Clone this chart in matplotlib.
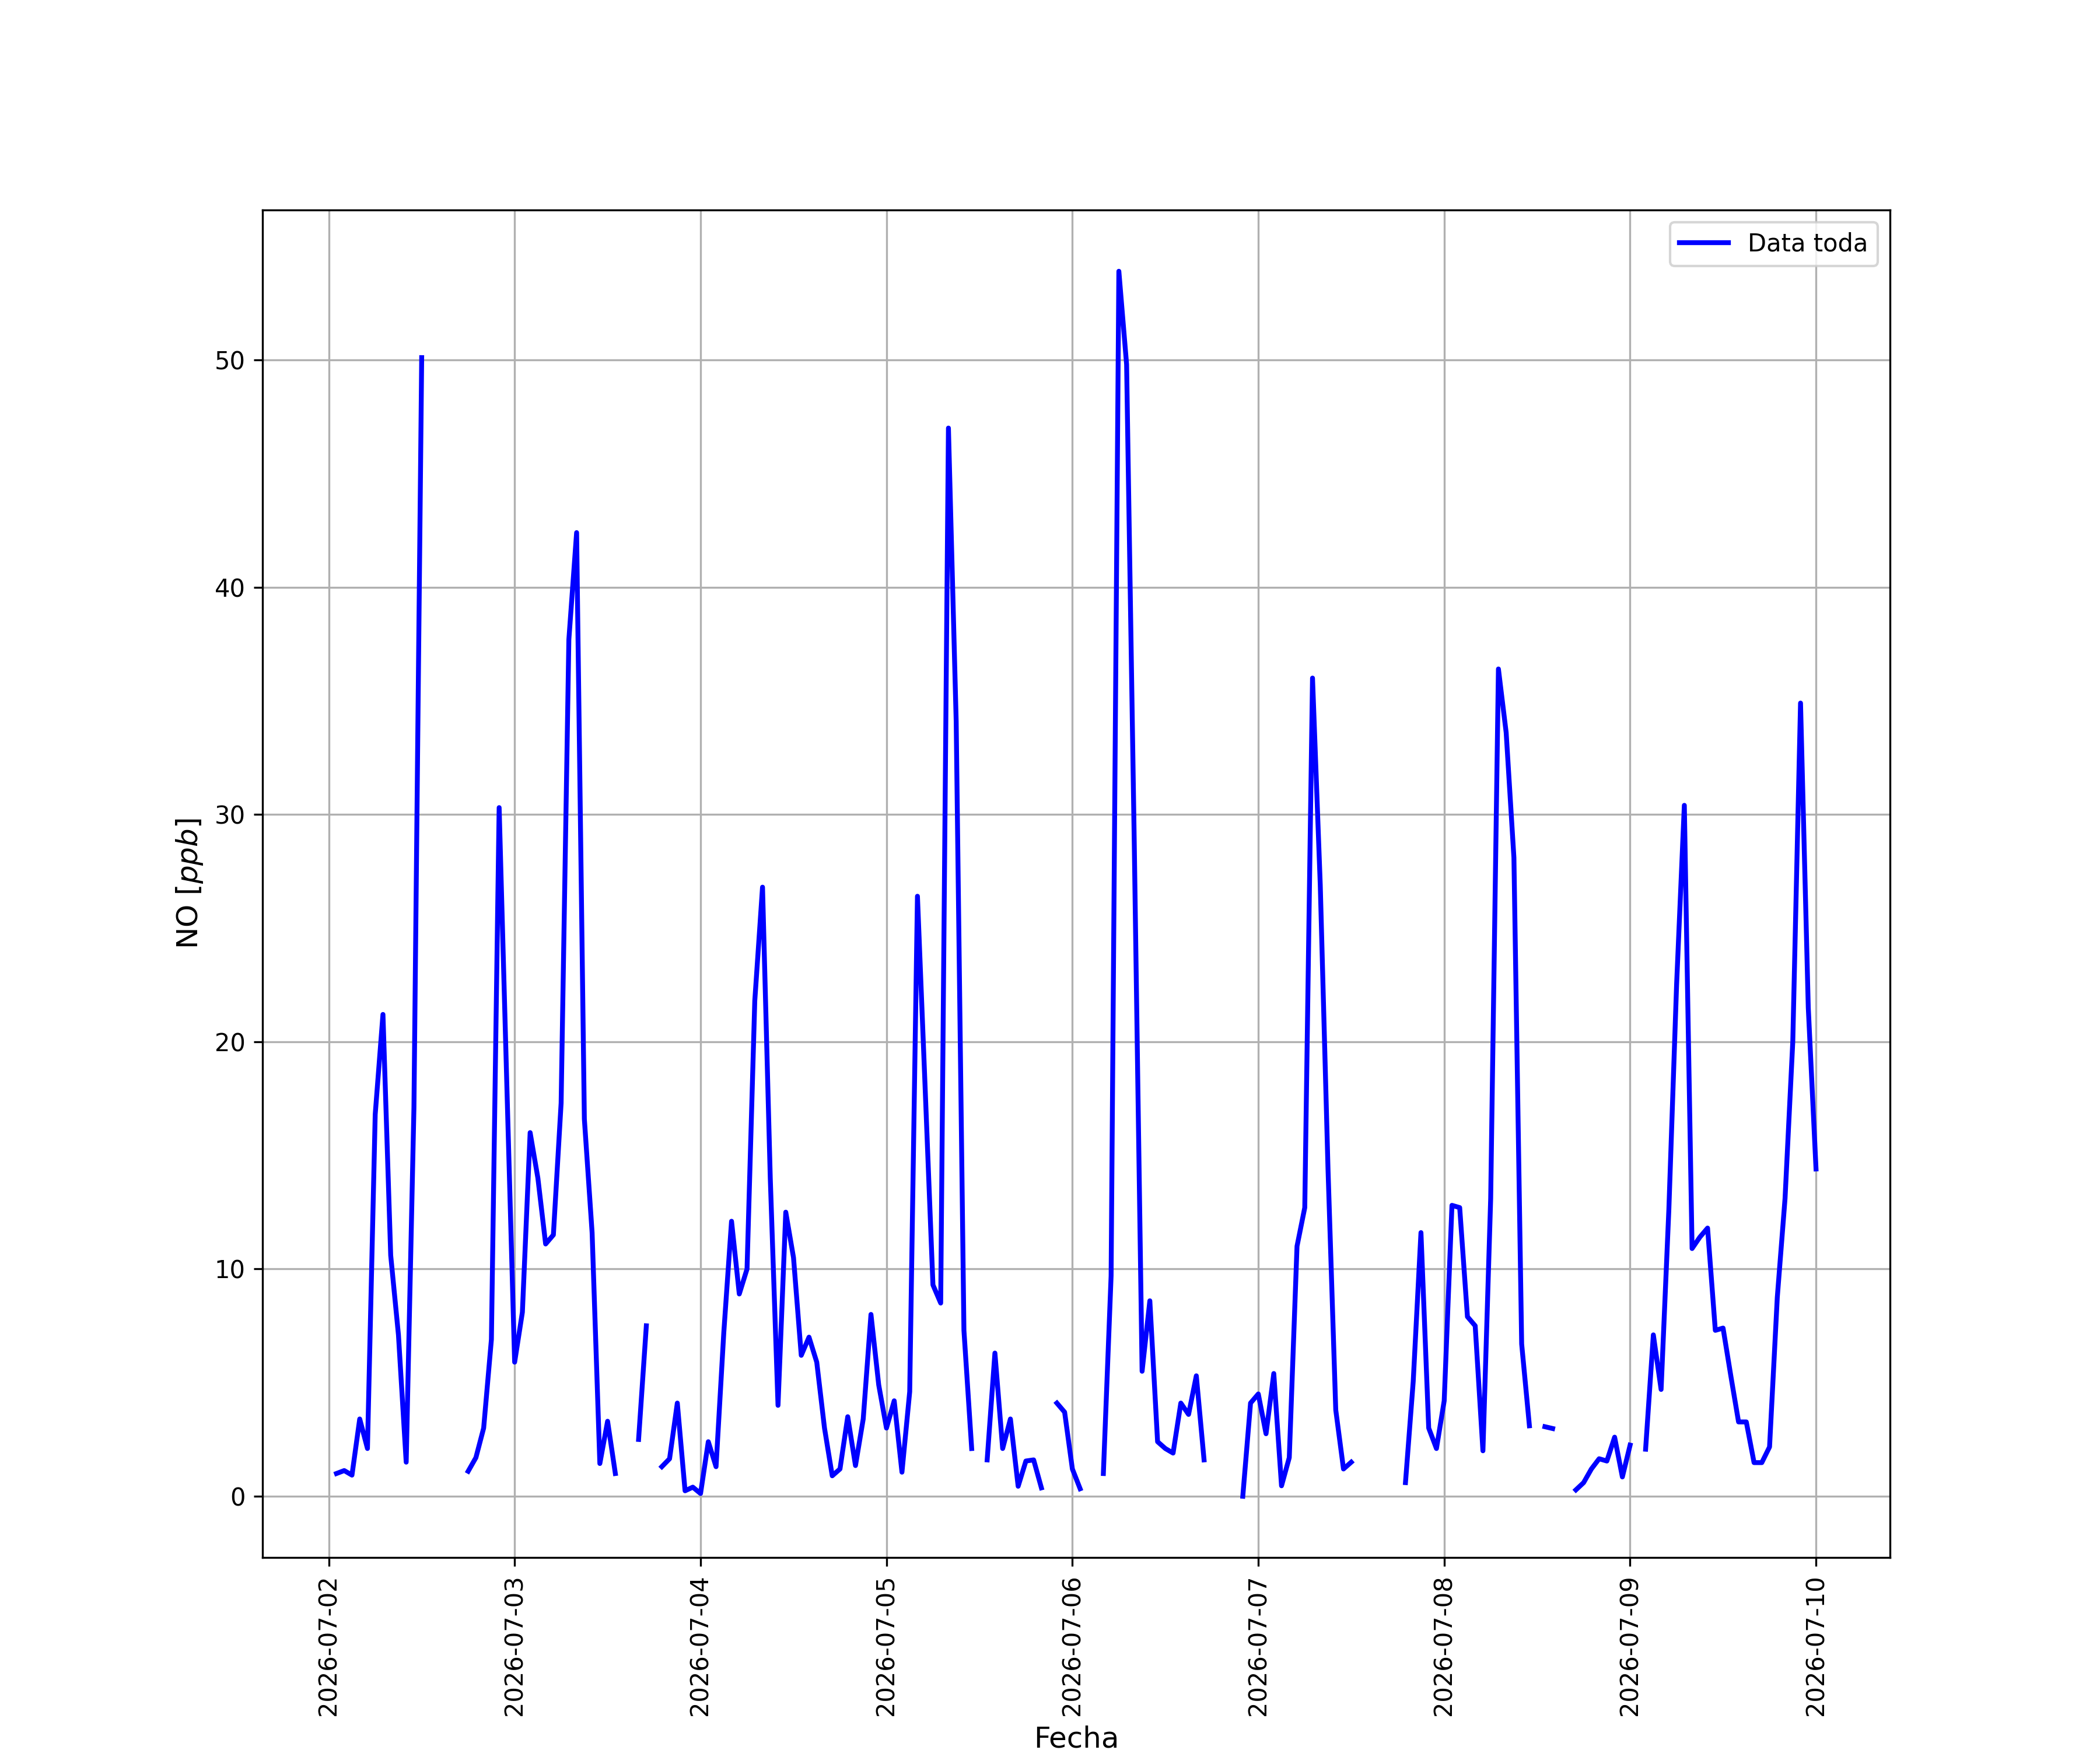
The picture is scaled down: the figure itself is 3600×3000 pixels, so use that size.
"""
Plot hourly NO concentration for the whole period.
"""
import numpy as np
import pandas as pd
import matplotlib
matplotlib.use('Agg')
import matplotlib.pyplot as plt
import matplotlib.dates as mdates

nan = np.nan

# hourly values, one list per day (first day starts at 01:00)
day_0702 = [1.0, 1.13, 0.93, 3.4, 2.1, 16.8, 21.2, 10.6, 7.1, 1.5, 17.1, 50.1,
            nan, nan, nan, nan, nan, 1.1, 1.7, 3.0, 6.9, 30.3, 18.0]
day_0703 = [5.9, 8.1, 16.0, 14.0, 11.1, 11.5, 17.3, 37.7, 42.4, 16.6, 11.6, 1.44,
            3.3, 1.0, nan, nan, 2.5, 7.5, nan, 1.3, 1.65, 4.1, 0.24, 0.4]
day_0704 = [0.12, 2.4, 1.3, 7.2, 12.1, 8.9, 10.0, 21.8, 26.8, 14.0, 4.0, 12.5,
            10.5, 6.2, 7.0, 5.9, 3.0, 0.9, 1.2, 3.5, 1.35, 3.4, 8.0, 4.9]
day_0705 = [3.0, 4.2, 1.06, 4.6, 26.4, 17.9, 9.3, 8.5, 47.0, 34.1, 7.3, 2.1,
            nan, 1.6, 6.3, 2.1, 3.4, 0.44, 1.55, 1.6, 0.37, nan, 4.1, 3.7]
day_0706 = [1.2, 0.33, nan, nan, 1.0, 9.7, 53.9, 49.8, 28.5, 5.5, 8.6, 2.4,
            2.1, 1.9, 4.1, 3.6, 5.3, 1.6, nan, nan, nan, nan, 0.0, 4.1]
day_0707 = [4.5, 2.75, 5.4, 0.46, 1.7, 11.0, 12.7, 36.0, 26.9, 14.4, 3.8, 1.2,
            1.5, nan, nan, nan, nan, nan, nan, 0.6, 5.05, 11.6, 3.0, 2.1]
day_0708 = [4.2, 12.8, 12.7, 7.9, 7.5, 2.0, 13.1, 36.4, 33.6, 28.1, 6.7, 3.1,
            nan, 3.06, 2.98, nan, nan, 0.28, 0.6, 1.2, 1.65, 1.55, 2.6, 0.85]
day_0709 = [2.25, nan, 2.07, 7.1, 4.7, 12.6, 22.5, 30.4, 10.9, 11.4, 11.8, 7.3,
            7.4, 5.3, 3.27, 3.27, 1.48, 1.48, 2.17, 8.75, 13.1, 20.0, 34.9, 21.5]
day_0710 = [14.4]


def build_series():
    """Join the daily lists into one hourly series."""
    values = (day_0702 + day_0703 + day_0704 + day_0705 + day_0706 +
              day_0707 + day_0708 + day_0709 + day_0710)
    times = pd.date_range('2026-07-02 01:00', periods=len(values), freq='h')
    return pd.Series(values, index=times)


def plot_no(series):
    fig, ax = plt.subplots(figsize=(12, 10))

    ax.plot(series.index, series.values, color='blue', linewidth=2,
            label='Data toda')

    ax.xaxis.set_major_locator(mdates.DayLocator())
    ax.xaxis.set_major_formatter(mdates.DateFormatter('%Y-%m-%d'))
    plt.xticks(rotation=90)

    ax.set_xlabel('Fecha', fontsize=12)
    ax.set_ylabel('NO [$ppb$]', fontsize=12)
    ax.legend(loc='upper right')
    ax.grid(True)

    plt.savefig('out.png', dpi=300)


def main():
    series = build_series()
    plot_no(series)


if __name__ == "__main__":
    main()
